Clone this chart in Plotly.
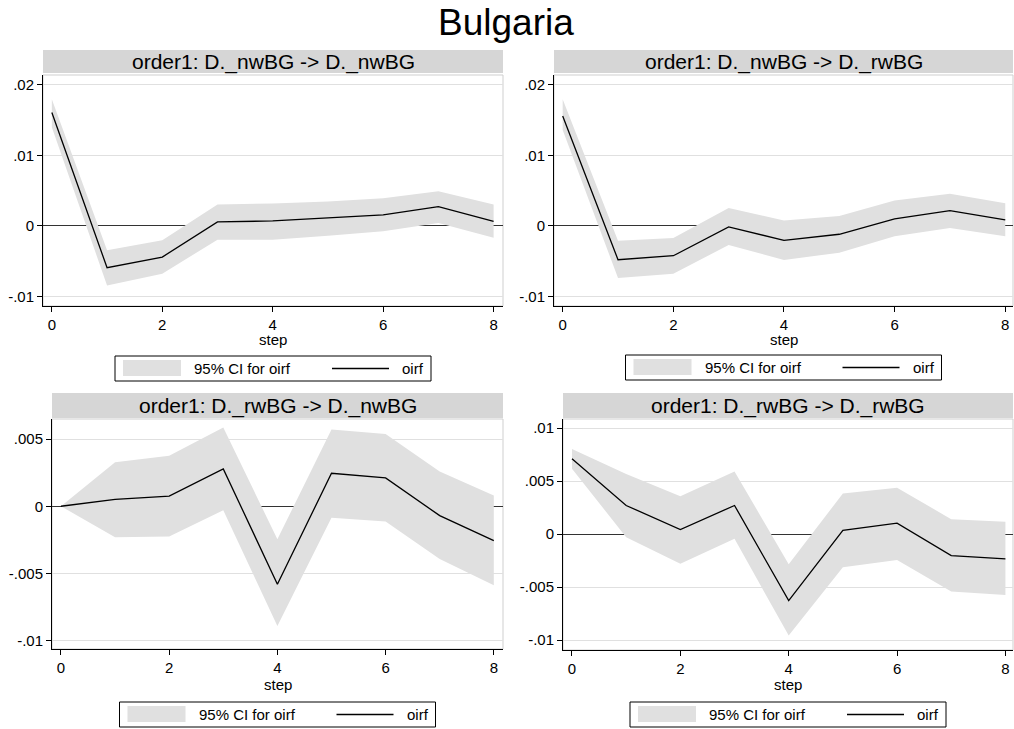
import plotly.graph_objects as go

# ---------------- data ----------------
steps = [0, 1, 2, 3, 4, 5, 6, 7, 8]

titles = [
    "order1: D._nwBG -> D._nwBG",
    "order1: D._nwBG -> D._rwBG",
    "order1: D._rwBG -> D._nwBG",
    "order1: D._rwBG -> D._rwBG",
]

oirf_nw_nw = [0.01607, -0.00592, -0.00441, 0.00057, 0.00071, 0.00114, 0.00156, 0.00275, 0.00066]
upper_nw_nw = [0.01796, -0.00346, -0.00204, 0.00303, 0.00318, 0.00345, 0.00393, 0.00493, 0.00303]
lower_nw_nw = [0.01398, -0.00844, -0.00678, -0.00194, -0.00194, -0.00140, -0.00076, 0.00043, -0.00166]

oirf_nw_rw = [0.01559, -0.00479, -0.00422, -0.00014, -0.00204, -0.00118, 0.00100, 0.00218, 0.00085]
upper_nw_rw = [0.01796, -0.00209, -0.00171, 0.00256, 0.00076, 0.00142, 0.00360, 0.00455, 0.00322]
lower_nw_rw = [0.01360, -0.00739, -0.00678, -0.00270, -0.00483, -0.00379, -0.00147, -0.00028, -0.00147]

oirf_rw_nw = [0.0, 0.00052, 0.00075, 0.00279, -0.00582, 0.00246, 0.00211, -0.00070, -0.00256]
upper_rw_nw = [0.0, 0.00328, 0.00376, 0.00587, -0.00246, 0.00572, 0.00540, 0.00259, 0.00080]
lower_rw_nw = [0.0, -0.00231, -0.00226, -0.00030, -0.00893, -0.00085, -0.00114, -0.00393, -0.00590]

oirf_rw_rw = [0.00712, 0.00271, 0.00044, 0.00271, -0.00627, 0.00035, 0.00104, -0.00202, -0.00233]
upper_rw_rw = [0.00803, 0.00567, 0.00359, 0.00592, -0.00283, 0.00384, 0.00438, 0.00142, 0.00117]
lower_rw_rw = [0.00617, -0.00028, -0.00280, -0.00044, -0.00957, -0.00312, -0.00243, -0.00542, -0.00573]

xtick_vals = [0, 2, 4, 6, 8]
ytick_vals_top = [-0.01, 0, 0.01, 0.02]
ytick_text_top = ["-.01", "0", ".01", ".02"]
ytick_vals_bl = [-0.01, -0.005, 0, 0.005]
ytick_text_bl = ["-.01", "-.005", "0", ".005"]
ytick_vals_br = [-0.01, -0.005, 0, 0.005, 0.01]
ytick_text_br = ["-.01", "-.005", "0", ".005", ".01"]

legend_ci = "95% CI for oirf"
legend_line = "oirf"
main_title = "Bulgaria"
x_title = "step"

# ---------------- layout helpers ----------------
W, H = 1014, 729
FONT = "Liberation Sans, Arial, sans-serif"
BAND = "#e0e0e0"
STRIP = "#d6d6d6"
GRID = "#e0e0e0"


def px(x):
    return x / W


def py(y):
    return 1 - y / H


# plot areas in pixels: (left, right, top, bottom)
panels = [
    dict(box=(43, 503, 75, 306), strip=(50, 73), yr=[-0.01135, 0.0214], xr=[-0.16, 8.17],
         tv=ytick_vals_top, tt=ytick_text_top, data=(oirf_nw_nw, upper_nw_nw, lower_nw_nw),
         step_y=339, leg_y=356),
    dict(box=(554, 1013, 75, 306), strip=(50, 73), yr=[-0.01135, 0.0214], xr=[-0.157, 8.14],
         tv=ytick_vals_top, tt=ytick_text_top, data=(oirf_nw_rw, upper_nw_rw, lower_nw_rw),
         step_y=339, leg_y=355),
    dict(box=(52, 503, 419, 649), strip=(393, 418), yr=[-0.01065, 0.00651], xr=[-0.166, 8.17],
         tv=ytick_vals_bl, tt=ytick_text_bl, data=(oirf_rw_nw, upper_rw_nw, lower_rw_nw),
         step_y=684, leg_y=702),
    dict(box=(563, 1013, 419, 650), strip=(393, 418), yr=[-0.01093, 0.01087], xr=[-0.166, 8.14],
         tv=ytick_vals_br, tt=ytick_text_br, data=(oirf_rw_rw, upper_rw_rw, lower_rw_rw),
         step_y=684, leg_y=702),
]

fig = go.Figure()
shapes = []
annotations = []

for i, p in enumerate(panels):
    n = "" if i == 0 else str(i + 1)
    xa, ya = "x" + n, "y" + n
    oirf, up, lo = p["data"]
    fig.add_trace(go.Scatter(
        x=steps + steps[::-1], y=up + lo[::-1], xaxis=xa, yaxis=ya,
        fill="toself", fillcolor=BAND, line=dict(width=0), mode="lines",
        name=legend_ci, showlegend=False, hoverinfo="skip"))
    fig.add_trace(go.Scatter(
        x=steps, y=oirf, xaxis=xa, yaxis=ya, mode="lines",
        line=dict(color="black", width=1.3), name=legend_line, showlegend=False))

    l, r, t, b = p["box"]
    axis_common = dict(showline=True, linecolor="black", linewidth=1, ticks="outside",
                       ticklen=5, tickcolor="black", tickwidth=1,
                       tickfont=dict(family=FONT, size=15, color="black"))
    fig.layout["xaxis" + n] = dict(domain=[px(l), px(r)], anchor=ya, range=p["xr"],
                                   tickvals=xtick_vals, showgrid=False, zeroline=False,
                                   **axis_common)
    fig.layout["yaxis" + n] = dict(domain=[py(b), py(t)], anchor=xa, range=p["yr"],
                                   tickvals=p["tv"], ticktext=p["tt"], showgrid=True,
                                   gridcolor=GRID, gridwidth=1, zeroline=True,
                                   zerolinecolor="#333333", zerolinewidth=1,
                                   **axis_common)

    # light frame on top/right
    shapes.append(dict(type="rect", xref="paper", yref="paper", x0=px(l), x1=px(r),
                       y0=py(b), y1=py(t), line=dict(color="#cfcfcf", width=1),
                       layer="below"))
    # strip
    s0, s1 = p["strip"]
    shapes.append(dict(type="rect", xref="paper", yref="paper", x0=px(l), x1=px(r),
                       y0=py(s1), y1=py(s0), fillcolor=STRIP, line=dict(width=0)))
    annotations.append(dict(text=titles[i], xref="paper", yref="paper",
                            x=px((l + r) / 2), y=py((s0 + s1) / 2), xanchor="center",
                            yanchor="middle", showarrow=False,
                            font=dict(family=FONT, size=21, color="black")))
    # x title
    annotations.append(dict(text=x_title, xref="paper", yref="paper",
                            x=px((l + r) / 2), y=py(p["step_y"]), xanchor="center",
                            yanchor="middle", showarrow=False,
                            font=dict(family=FONT, size=15, color="black")))
    # legend box (drawn manually to mimic Stata layout)
    cx = (l + r) / 2
    L = cx - 158
    T = p["leg_y"]
    shapes.append(dict(type="rect", xref="paper", yref="paper", x0=px(L), x1=px(L + 316),
                       y0=py(T + 25), y1=py(T), line=dict(color="black", width=1),
                       fillcolor="white"))
    shapes.append(dict(type="rect", xref="paper", yref="paper", x0=px(L + 8), x1=px(L + 66),
                       y0=py(T + 20), y1=py(T + 4), line=dict(width=0), fillcolor=BAND))
    shapes.append(dict(type="line", xref="paper", yref="paper", x0=px(L + 217), x1=px(L + 274),
                       y0=py(T + 12.5), y1=py(T + 12.5), line=dict(color="black", width=1.3)))
    annotations.append(dict(text=legend_ci, xref="paper", yref="paper", x=px(L + 77),
                            y=py(T + 12.5), xanchor="left", yanchor="middle", showarrow=False,
                            font=dict(family=FONT, size=15, color="black")))
    annotations.append(dict(text=legend_line, xref="paper", yref="paper", x=px(L + 311),
                            y=py(T + 12.5), xanchor="right", yanchor="middle", showarrow=False,
                            font=dict(family=FONT, size=15, color="black")))

annotations.append(dict(text=main_title, xref="paper", yref="paper", x=px(506), y=py(22),
                        xanchor="center", yanchor="middle", showarrow=False,
                        font=dict(family=FONT, size=37, color="black")))

fig.update_layout(
    width=W, height=H, margin=dict(l=0, r=0, t=0, b=0),
    paper_bgcolor="white", plot_bgcolor="white",
    showlegend=False, shapes=shapes, annotations=annotations,
    font=dict(family=FONT, color="black"),
)

fig.write_html("out.html")
